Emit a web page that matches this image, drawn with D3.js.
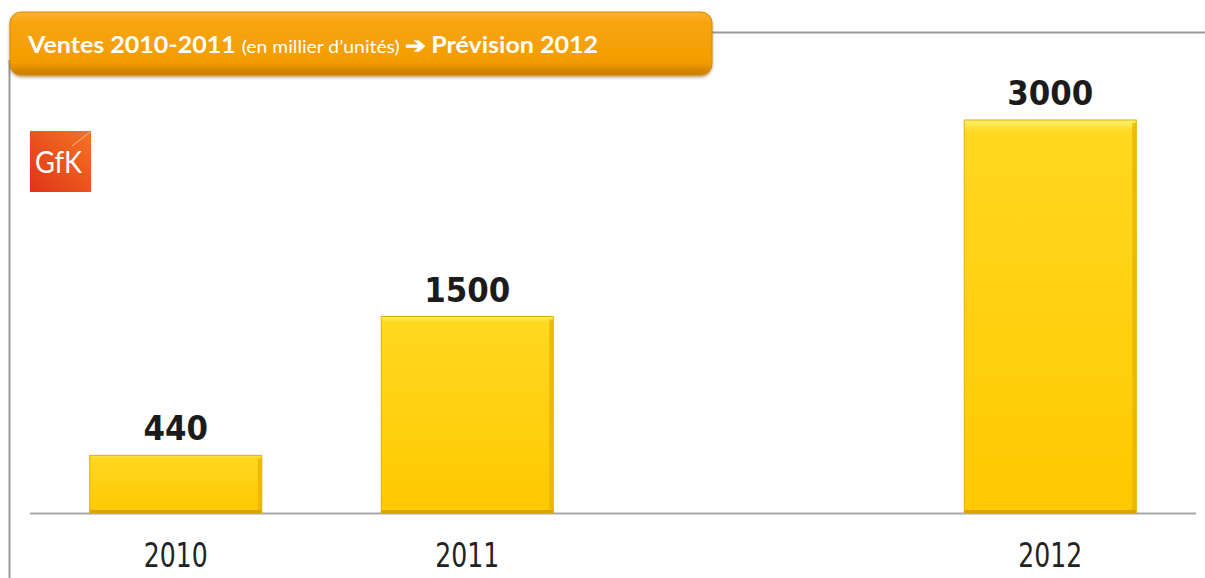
<!DOCTYPE html>
<meta charset="utf-8">
<style>
  body { margin: 0; background: #fff; }
  .frame line { stroke: #9a9a9a; stroke-width: 2; }
  .value { font-family: "DejaVu Sans", Verdana, sans-serif; font-weight: bold; fill: #1b1b1b; }
  .year { font-family: "DejaVu Sans", Verdana, sans-serif; fill: #222; }
</style>

<svg width="1205" height="578"></svg>
<script src="https://cdn.jsdelivr.net/npm/d3@7"></script>

<script>
const svg = d3.select("svg"),
  width = +svg.attr("width"),
  height = +svg.attr("height");

// data
const slots = ["2010", "2011", "", "2012"];   // empty slot keeps the gap before 2012
const years = ["2010", "2011", "2012"];
const values = [440, 1500, 3000];
const titleParts = ["Ventes 2010-2011", "(en millier d\u2019unit\u00e9s)", "\u2794 Pr\u00e9vision 2012"];

const bars_data = years.map((y, i) => ({ year: y, value: values[i] }));

const x = d3.scaleBand()
  .domain(slots)
  .range([30, 1196])
  .paddingInner(0.41)
  .paddingOuter(0.205);

const y = d3.scaleLinear()
  .domain([0, 3000])
  .range([513, 120]);

const defs = svg.append("defs");

const headGrad = defs.append("linearGradient")
  .attr("id", "headGrad").attr("x1", 0).attr("y1", 0).attr("x2", 0).attr("y2", 1);
headGrad.append("stop").attr("offset", "0%").attr("stop-color", "#fbb233");
headGrad.append("stop").attr("offset", "15%").attr("stop-color", "#f8a512");
headGrad.append("stop").attr("offset", "80%").attr("stop-color", "#f39c00");
headGrad.append("stop").attr("offset", "100%").attr("stop-color", "#c97a00");

const barGrad = defs.append("linearGradient")
  .attr("id", "barGrad").attr("x1", 0).attr("y1", 0).attr("x2", 0).attr("y2", 1);
barGrad.append("stop").attr("offset", "0%").attr("stop-color", "#fff06a");
barGrad.append("stop").attr("offset", "3%").attr("stop-color", "#ffd820");
barGrad.append("stop").attr("offset", "100%").attr("stop-color", "#ffc800");

const logoGrad = defs.append("linearGradient")
  .attr("id", "logoGrad").attr("x1", 0).attr("y1", 1).attr("x2", 1).attr("y2", 0);
logoGrad.append("stop").attr("offset", "0%").attr("stop-color", "#df3418");
logoGrad.append("stop").attr("offset", "100%").attr("stop-color", "#f57422");

const shadow = defs.append("filter").attr("id", "shadow")
  .attr("x", "-5%").attr("y", "-20%").attr("width", "110%").attr("height", "150%");
shadow.append("feDropShadow")
  .attr("dx", 0).attr("dy", 2).attr("stdDeviation", 1.5)
  .attr("flood-color", "#7a4a00").attr("flood-opacity", 0.5);

// frame
const frame = svg.append("g").attr("class", "frame");
frame.append("line").attr("x1", 9.5).attr("x2", 9.5).attr("y1", 60).attr("y2", height);
frame.append("line").attr("x1", 700).attr("x2", width).attr("y1", 32.5).attr("y2", 32.5);

// header banner
svg.append("rect")
  .attr("x", 10).attr("y", 12).attr("width", 702).attr("height", 63)
  .attr("rx", 11)
  .attr("fill", "url(#headGrad)")
  .attr("stroke", "#d98a00").attr("stroke-width", 1)
  .attr("filter", "url(#shadow)");

const title = svg.append("text")
  .attr("x", 28).attr("y", 53)
  .attr("fill", "#fff")
  .attr("font-family", "Lato, 'Open Sans', sans-serif")
  .attr("textLength", 570)
  .attr("lengthAdjust", "spacingAndGlyphs");
title.append("tspan").attr("font-size", 22).attr("font-weight", "bold").text(titleParts[0] + " ");
title.append("tspan").attr("font-size", 17).text(titleParts[1] + " ");
title.append("tspan").attr("font-size", 22).attr("font-weight", "bold").text(titleParts[2]);

// GfK logo
svg.append("rect")
  .attr("x", 30).attr("y", 131).attr("width", 61).attr("height", 61)
  .attr("fill", "url(#logoGrad)");
svg.append("line")
  .attr("x1", 72).attr("y1", 146).attr("x2", 90).attr("y2", 132)
  .attr("stroke", "#fff").attr("stroke-opacity", 0.5).attr("stroke-width", 1);
svg.append("text")
  .attr("x", 58.5).attr("y", 173)
  .attr("text-anchor", "middle")
  .attr("fill", "#fff")
  .attr("font-family", "Lato, sans-serif")
  .attr("font-weight", 400)
  .attr("font-size", 30)
  .attr("textLength", 47)
  .attr("lengthAdjust", "spacingAndGlyphs")
  .text("GfK");

// axis baseline
svg.append("line")
  .attr("x1", x.range()[0]).attr("x2", x.range()[1])
  .attr("y1", y(0) + 0.5).attr("y2", y(0) + 0.5)
  .attr("stroke", "#a8a8a8").attr("stroke-width", 2);

// bars
const bar = svg.append("g")
  .selectAll("g")
  .data(bars_data)
  .enter().append("g");

bar.append("rect")
  .attr("x", d => x(d.year))
  .attr("y", d => y(d.value))
  .attr("width", x.bandwidth())
  .attr("height", d => y(0) - y(d.value))
  .attr("fill", "url(#barGrad)")
  .attr("stroke", "#e0b000")
  .attr("stroke-width", 1);

// darker right edge of the bevel
bar.append("rect")
  .attr("x", d => x(d.year) + x.bandwidth() - 4)
  .attr("y", d => y(d.value) + 3)
  .attr("width", 4)
  .attr("height", d => y(0) - y(d.value) - 3)
  .attr("fill", "#e8b400")
  .attr("opacity", 0.8);

// darker bottom edge
bar.append("rect")
  .attr("x", d => x(d.year))
  .attr("y", y(0) - 3)
  .attr("width", x.bandwidth())
  .attr("height", 3)
  .attr("fill", "#d9a400");

// value labels
svg.append("g")
  .selectAll("text")
  .data(bars_data)
  .enter().append("text")
    .attr("class", "value")
    .attr("x", d => x(d.year) + x.bandwidth() / 2)
    .attr("y", d => y(d.value) - 15)
    .attr("text-anchor", "middle")
    .attr("font-size", 33)
    .attr("textLength", d => String(d.value).length * 21.5)
    .attr("lengthAdjust", "spacingAndGlyphs")
    .text(d => d.value);

// year labels
svg.append("g")
  .selectAll("text")
  .data(years)
  .enter().append("text")
    .attr("class", "year")
    .attr("x", d => x(d) + x.bandwidth() / 2)
    .attr("y", 567)
    .attr("text-anchor", "middle")
    .attr("font-size", 33)
    .attr("textLength", 64)
    .attr("lengthAdjust", "spacingAndGlyphs")
    .text(d => d);
</script>
